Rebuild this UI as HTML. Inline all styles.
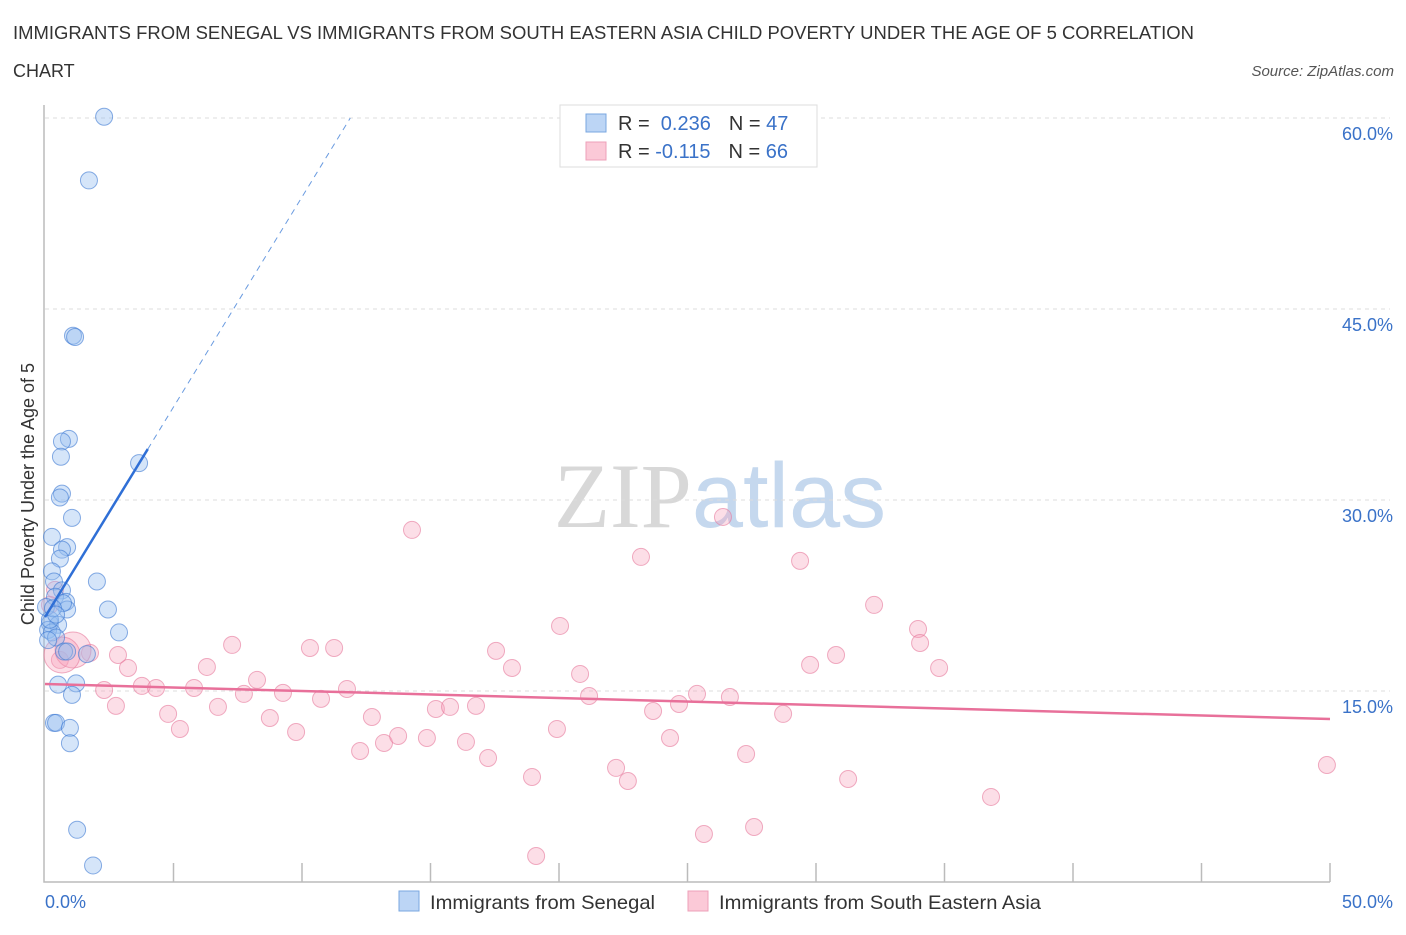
<!DOCTYPE html>
<html><head><meta charset="utf-8"><style>
body{margin:0;background:#fff;font-family:"Liberation Sans",sans-serif;}
svg text{font-family:"Liberation Sans",sans-serif;}
</style></head><body>
<svg id="chart" width="1406" height="930" xmlns="http://www.w3.org/2000/svg">
<text x="13" y="39" font-size="18" fill="#333" textLength="1181" lengthAdjust="spacingAndGlyphs">IMMIGRANTS FROM SENEGAL VS IMMIGRANTS FROM SOUTH EASTERN ASIA CHILD POVERTY UNDER THE AGE OF 5 CORRELATION</text>
<text x="13" y="77" font-size="18" fill="#333">CHART</text>
<text x="1394" y="76" font-size="15" fill="#555" font-style="italic" text-anchor="end">Source: ZipAtlas.com</text>
<text x="720" y="527" font-size="92" text-anchor="middle"><tspan fill="#d8d8d8" font-family="Liberation Serif">ZIP</tspan><tspan fill="#c5d8ee">atlas</tspan></text>
<g id="grid"></g><g id="axes"></g><g id="pts"></g><g id="trend"></g>
<text transform="translate(34,494) rotate(-90)" font-size="18" fill="#333" text-anchor="middle">Child Poverty Under the Age of 5</text>
<g>
<rect x="560" y="105" width="257" height="62" fill="#fff" stroke="#ddd"/>
<rect x="586" y="114" width="20" height="18" fill="#bcd5f5" stroke="#7aa7e0"/>
<rect x="586" y="142" width="20" height="18" fill="#fbc9d7" stroke="#eea0b8"/>
<text x="618" y="130" font-size="20" fill="#333">R = <tspan fill="#3a72c8">&#160;0.236</tspan><tspan dx="18" fill="#333">N = </tspan><tspan fill="#3a72c8">47</tspan></text>
<text x="618" y="158" font-size="20" fill="#333">R = <tspan fill="#3a72c8">-0.115</tspan><tspan dx="18" fill="#333">N = </tspan><tspan fill="#3a72c8">66</tspan></text>
</g>
<g>
<rect x="399" y="891" width="20" height="20" fill="#bcd5f5" stroke="#7aa7e0"/>
<text x="430" y="909" font-size="19.5" fill="#333" textLength="225" lengthAdjust="spacingAndGlyphs">Immigrants from Senegal</text>
<rect x="688" y="891" width="20" height="20" fill="#fbc9d7" stroke="#eea0b8"/>
<text x="719" y="909" font-size="19.5" fill="#333" textLength="322" lengthAdjust="spacingAndGlyphs">Immigrants from South Eastern Asia</text>
</g>
</svg>
<script>
const yTicks=[15,30,45,60];
const yTickLabels=["15.0%","30.0%","45.0%","60.0%"];
const xTickLabels=["0.0%","50.0%"];
const blueX=[2.30,1.71,1.09,1.17,0.93,0.66,0.62,3.66,0.66,0.58,1.05,0.27,0.86,0.66,0.58,2.02,0.27,0.35,0.66,0.39,0.82,2.45,0.86,0.70,0.19,0.51,0.12,0.27,0.43,2.88,0.74,1.63,0.86,0.51,1.21,1.05,0.35,0.43,0.97,0.97,1.25,1.87,0.19,0.04,0.12,0.31,0.43];
const blueY=[60.1,55.1,42.9,42.8,34.8,34.6,33.4,32.9,30.5,30.2,28.6,27.1,26.3,26.1,25.4,23.6,24.4,23.6,22.9,22.4,22.0,21.4,21.4,21.9,20.3,20.2,19.8,19.6,19.2,19.6,18.1,17.9,18.1,15.5,15.6,14.7,12.5,12.5,12.1,10.9,4.1,1.3,20.6,21.6,19.0,21.5,21.0];
const pinkX=[14.28,23.19,26.38,29.38,32.26,20.04,33.97,34.05,7.28,10.31,11.25,17.55,18.17,20.82,29.77,30.78,34.79,6.30,3.23,8.25,2.84,1.75,0.58,0.39,0.19,3.77,4.32,2.30,5.80,7.74,9.26,11.75,21.17,25.37,26.65,24.67,10.74,6.73,2.76,4.79,5.25,8.75,9.77,12.72,15.21,15.76,16.77,23.66,28.72,19.92,12.26,13.19,13.74,14.86,16.38,17.24,24.32,27.28,18.95,22.22,22.68,31.25,36.81,49.88,25.64,27.59,19.11,1.09,0.66];
const pinkY=[27.65,25.53,28.67,25.22,21.76,20.11,19.87,18.77,18.62,18.38,18.38,18.15,16.81,16.34,17.05,17.83,16.81,16.89,16.81,15.87,17.83,17.99,17.44,22.94,21.76,15.40,15.24,15.08,15.24,14.77,14.85,15.16,14.61,14.77,14.53,13.98,14.38,13.75,13.83,13.20,12.02,12.88,11.78,12.96,13.59,13.75,13.83,13.43,13.20,12.02,10.29,10.92,11.47,11.31,11.00,9.74,11.31,10.05,8.25,8.96,7.93,8.09,6.68,9.19,3.77,4.32,2.04,18.22,17.83];
const pinkR=[8.5,8.5,8.5,8.5,8.5,8.5,8.5,8.5,8.5,8.5,8.5,8.5,8.5,8.5,8.5,8.5,8.5,8.5,8.5,8.5,8.5,8.5,8.5,8.5,8.5,8.5,8.5,8.5,8.5,8.5,8.5,8.5,8.5,8.5,8.5,8.5,8.5,8.5,8.5,8.5,8.5,8.5,8.5,8.5,8.5,8.5,8.5,8.5,8.5,8.5,8.5,8.5,8.5,8.5,8.5,8.5,8.5,8.5,8.5,8.5,8.5,8.5,8.5,8.5,8.5,8.5,8.5,18,18];
const blueTrend=[20.8,3.3]; // intercept, slope
const pinkTrend=[15.55,-0.055];
const X=v=>45+v*25.7, Y=v=>882-v*12.733;
const NS="http://www.w3.org/2000/svg";
function mk(p,t,a){const e=document.createElementNS(NS,t);for(const k in a)e.setAttribute(k,a[k]);p.appendChild(e);return e;}
const grid=document.getElementById('grid'),axes=document.getElementById('axes'),pts=document.getElementById('pts'),tr=document.getElementById('trend');
yTicks.forEach((t,i)=>{
 const l=mk(grid,'line',{x1:45,x2:1390,y1:Y(t),y2:Y(t),stroke:'#ddd','stroke-dasharray':'4,4'});
 
 
 const tx=mk(grid,'text',{x:1393,y:Y(t)+22,'font-size':18,fill:'#3a72c8','text-anchor':'end'});
 tx.textContent=yTickLabels[i];
 
 
});
const ax=mk(axes,'path',{d:'M44,105 V882 H1330',fill:'none',stroke:'#bbb','stroke-width':1.5});


for(let i=1;i<=10;i++){
 const t=mk(axes,'line',{x1:X(i*5),x2:X(i*5),y1:863,y2:882,stroke:'#bbb','stroke-width':1.5});
 
 
}
[[0,'start',45],[50,'end',1393]].forEach((d,i)=>{
 const t=mk(axes,'text',{x:d[2],y:908,'font-size':18,fill:'#3a72c8','text-anchor':d[1]});
 t.textContent=xTickLabels[i];
 
 
});
pinkX.forEach((v,i)=>{
 const c=mk(pts,'circle',{cx:X(v),cy:Y(pinkY[i]),r:pinkR[i],fill:'rgba(245,160,185,0.35)',stroke:'rgba(230,120,155,0.6)','stroke-width':1});
 
 
});
blueX.forEach((v,i)=>{
 const c=mk(pts,'circle',{cx:X(v),cy:Y(blueY[i]),r:8.5,fill:'rgba(150,190,240,0.4)',stroke:'rgba(60,120,210,0.6)','stroke-width':1});
 
 
});
const bx1=4.0,bx2=(60-blueTrend[0])/blueTrend[1];
const b1=mk(tr,'line',{x1:X(0),y1:Y(blueTrend[0]),x2:X(bx1),y2:Y(blueTrend[0]+blueTrend[1]*bx1),stroke:'#2f6fd6','stroke-width':2.5});


const b2=mk(tr,'line',{x1:X(bx1),y1:Y(blueTrend[0]+blueTrend[1]*bx1),x2:X(bx2),y2:Y(60),stroke:'#6a9be0','stroke-width':1,'stroke-dasharray':'6,5'});


const p1=mk(tr,'line',{x1:X(0),y1:Y(pinkTrend[0]),x2:X(50),y2:Y(pinkTrend[0]+pinkTrend[1]*50),stroke:'#e8709a','stroke-width':2.5});


</script>
</body></html>
